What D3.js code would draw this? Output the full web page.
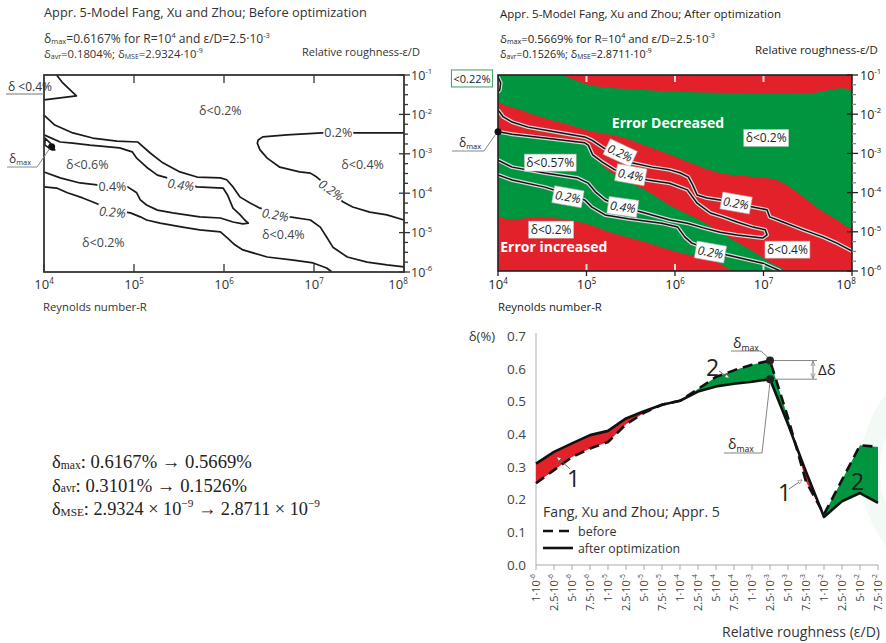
<!DOCTYPE html>
<html><head><meta charset="utf-8">
<script src="https://cdn.jsdelivr.net/npm/d3@7/dist/d3.min.js"></script>
<style>
html,body{margin:0;padding:0;background:#fff;}
svg{display:block;font-family:"Open Sans",Lato,sans-serif;}
</style></head>
<body><svg id="chart" width="886" height="643"></svg>
<script>
// ================= DATA =================
const reynoldsExps=[4,5,6,7,8];
const roughnessExps=[-1,-2,-3,-4,-5,-6];

// Before optimization: contour lines, points are [log10 R, log10 ε/D]
const befCorner=[[4.14,-1],[4.20,-1.18],[4.29,-1.38],[4.36,-1.53],[4.18,-1.58],[4,-1.63]];
const befOuter=[[4.00,-2.02],[4.12,-2.27],[4.32,-2.47],[4.54,-2.60],[4.81,-2.68],[5.04,-2.70],[5.18,-2.98],[5.32,-3.23],[5.51,-3.46],[5.70,-3.59],[5.96,-3.61],[6.03,-3.66],[6.10,-3.84],[6.18,-4.10],[6.29,-4.25],[6.40,-4.38],[6.57,-4.48],[6.73,-4.60],[6.96,-4.68],[7.07,-4.86],[7.14,-5.11],[7.21,-5.37],[7.37,-5.62],[7.59,-5.75],[7.81,-5.82],[8.00,-5.87]];
const befTongue=[[4.00,-2.52],[4.18,-2.70],[4.32,-2.73],[4.51,-2.78],[4.84,-2.85],[4.98,-2.95],[5.03,-3.11],[5.14,-3.34],[5.26,-3.54],[5.37,-3.61],[5.70,-3.84],[5.99,-3.87],[6.04,-4.05],[6.10,-4.38],[6.18,-4.55],[6.23,-4.68],[6.27,-4.76],[6.21,-4.78],[6.10,-4.73],[5.96,-4.63],[5.73,-4.60],[5.43,-4.50],[5.26,-4.43],[5.14,-4.30],[5.07,-4.17],[5.03,-3.99],[4.93,-3.84],[4.59,-3.79],[4.40,-3.74],[4.18,-3.61],[4.00,-3.46]];
const befLower=[[4.00,-3.84],[4.14,-3.87],[4.26,-3.99],[4.43,-4.12],[4.57,-4.25],[4.76,-4.43],[4.96,-4.50],[5.07,-4.60],[5.14,-4.68],[5.29,-4.76],[5.54,-4.86],[5.73,-4.93],[5.96,-4.98],[6.04,-5.14],[6.12,-5.31],[6.21,-5.44],[6.48,-5.62],[6.77,-5.70],[6.99,-5.77],[7.14,-5.90],[7.20,-6.00]];
const befRight=[[8.00,-2.47],[7.42,-2.47],[7.09,-2.47],[6.70,-2.52],[6.43,-2.57],[6.38,-2.65],[6.37,-2.73],[6.40,-2.90],[6.48,-3.11],[6.62,-3.34],[6.84,-3.46],[6.96,-3.49],[7.03,-3.59],[7.18,-3.87],[7.32,-4.22],[7.43,-4.35],[7.62,-4.48],[7.81,-4.55],[8.00,-4.68]];
const befSliver=[[4.01,-2.60],[4.07,-2.73],[4.12,-2.90],[4.09,-2.90],[4.01,-2.78]];
const befMaxPoint=[4.085,-2.82];
const befRegionLabels=[["δ<0.2%",5.96,-1.89],["δ<0.6%",4.48,-3.28],["δ<0.2%",4.66,-5.26],["δ<0.4%",6.66,-5.06],["δ<0.4%",7.54,-3.28]];
const befLineLabels=[["0.2%",7.27,-2.47,0,0],["0.4%",4.76,-3.84,0,0],["0.4%",5.52,-3.79,8,1],["0.2%",4.76,-4.48,5,1],["0.2%",6.57,-4.55,10,1],["0.2%",7.19,-3.92,35,1]];

// After optimization
const aftCorner=[[4,-1.05],[4.03,-1.2],[4.02,-1.38],[4,-1.43]];
const aftUpper=[[4.00,-1.89],[4.06,-2.07],[4.16,-2.20],[4.34,-2.33],[4.64,-2.45],[4.98,-2.58],[5.06,-2.66],[5.18,-2.84],[5.32,-3.04],[5.51,-3.24],[5.74,-3.35],[5.94,-3.42],[6.06,-3.50],[6.15,-3.60],[6.20,-3.81],[6.25,-4.06],[6.36,-4.14],[6.51,-4.19],[6.70,-4.29],[6.88,-4.37],[7.04,-4.44],[7.07,-4.62],[7.22,-4.75],[7.45,-4.95],[7.67,-5.13],[7.83,-5.29],[8.00,-5.49]];
const aftTongue=[[4.00,-2.45],[4.16,-2.51],[4.53,-2.61],[4.98,-2.73],[5.02,-2.79],[5.07,-3.04],[5.18,-3.22],[5.32,-3.42],[5.51,-3.55],[5.69,-3.68],[5.94,-3.76],[6.14,-3.93],[6.25,-4.27],[6.40,-4.52],[6.54,-4.62],[6.70,-4.75],[6.88,-4.88],[7.02,-4.95],[7.04,-5.08],[6.99,-5.16],[6.70,-5.08],[6.51,-5.01],[6.32,-4.90],[6.14,-4.78],[5.94,-4.70],[5.66,-4.52],[5.49,-4.42],[5.21,-4.19],[5.10,-3.98],[5.02,-3.76],[4.90,-3.63],[4.53,-3.50],[4.16,-3.35],[4.00,-3.17]];
const aftLower=[[4.00,-3.55],[4.16,-3.68],[4.53,-3.86],[4.81,-4.06],[4.98,-4.19],[5.06,-4.37],[5.21,-4.57],[5.47,-4.67],[5.85,-4.78],[6.03,-4.88],[6.11,-5.13],[6.19,-5.29],[6.40,-5.46],[6.59,-5.59],[6.99,-5.80],[7.19,-6.00]];
const aftMaxPoint=[4.0,-2.45];
const aftGreenUpper=[[4.00,-1.00],[4.70,-1.00],[4.87,-1.13],[5.04,-1.26],[5.47,-1.36],[6.03,-1.43],[6.60,-1.46],[7.16,-1.48],[7.55,-1.46],[8.00,-1.43],[8.00,-4.90],[7.83,-4.70],[7.64,-4.44],[7.45,-4.11],[7.15,-3.68],[6.88,-3.60],[6.51,-3.50],[6.17,-3.24],[5.99,-3.07],[5.65,-2.79],[5.39,-2.58],[5.08,-2.45],[4.82,-2.28],[4.52,-2.10],[4.26,-1.89],[4.00,-1.66]];
const aftGreenMiddle=[[4.00,-2.45],[4.16,-2.51],[4.53,-2.61],[4.98,-2.73],[5.02,-2.79],[5.15,-3.24],[5.38,-3.63],[5.66,-3.93],[5.94,-4.32],[6.28,-4.70],[6.56,-5.08],[6.85,-5.46],[7.07,-5.77],[7.24,-6.00],[6.68,-6.00],[6.42,-5.72],[6.03,-5.52],[5.66,-5.26],[5.29,-5.03],[4.98,-4.78],[4.53,-4.62],[4.00,-4.57]];
const aftBoxLabels=[["δ<0.2%",7.03,-2.61,0,0],["δ<0.57%",4.59,-3.24,0,0],["0.2%",5.38,-2.99,25,1],["0.4%",5.50,-3.55,10,1],["0.2%",4.79,-4.11,10,1],["0.4%",5.41,-4.37,8,1],["0.2%",6.69,-4.27,10,1],["δ<0.2%",4.60,-4.95,0,0],["0.2%",6.40,-5.52,10,1],["δ<0.4%",7.27,-5.46,0,0]];
const aftBigLabels=[["Error Decreased",5.92,-2.22],["Error increased",4.63,-5.39]];

// Bottom chart: relative roughness categories and δ (%)
const roughMant=["1","2.5","5","7.5","1","2.5","5","7.5","1","2.5","5","7.5","1","2.5","5","7.5","1","2.5","5","7.5"];
const roughExp=[-6,-6,-6,-6,-5,-5,-5,-5,-4,-4,-4,-4,-3,-3,-3,-3,-2,-2,-2,-2];
const deltaBefore=[0.25,0.29,0.33,0.356,0.376,0.43,0.465,0.49,0.502,0.538,0.575,0.595,0.612,0.625,0.45,0.255,0.155,0.26,0.366,0.361];
const deltaAfter=[0.31,0.346,0.372,0.397,0.41,0.448,0.47,0.49,0.502,0.53,0.546,0.554,0.56,0.568,0.43,0.285,0.147,0.195,0.22,0.19];
const deltaTicks=[0,0.1,0.2,0.3,0.4,0.5,0.6,0.7];
const maxIndex=13;

// ================= DRAWING =================
const RED="#e3212b", GREEN="#009640";
const svg=d3.select("#chart");
const defs=svg.append("defs");

svg.append("circle").attr("cx",985).attr("cy",470).attr("r",115).attr("fill","none").attr("stroke","#f3f9f5").attr("stroke-width",20);

function rich(t, parts, subOff){
  let off=0;
  const so = subOff===undefined?0.2:subOff;
  for(const [s,k] of parts){
    const f = k==="n"?1:0.62;
    const tgt = k==="sup"?-0.42:k==="sub"?so:0;
    const ts=t.append("tspan").text(s);
    if(f!==1) ts.attr("font-size",f+"em");
    if(tgt!==off) ts.attr("dy",((tgt-off)/f).toFixed(3)+"em");
    off=tgt;
  }
  return t;
}
function fit(t,w){const l=t.node().getComputedTextLength();const fs=parseFloat(t.attr("font-size"));t.attr("font-size",(fs*w/l).toFixed(2));return t;}
function bgLabel(g,txt,x,y,rot,o){
  const gg=g.append("g").attr("transform",`translate(${x},${y}) rotate(${rot})`);
  const t=gg.append("text").attr("text-anchor","middle").attr("dy","0.36em").attr("font-size",o.size).attr("fill",o.color).text(txt);
  if(o.italic) t.attr("font-style","italic");
  const b=t.node().getBBox();
  gg.insert("rect","text").attr("x",b.x-o.padx).attr("y",b.y-o.pady).attr("width",b.width+2*o.padx).attr("height",b.height+2*o.pady).attr("fill","#fff").attr("stroke",o.stroke||"none").attr("stroke-width",0.6);
}

function panel(cfg){
  const x=d3.scaleLog().domain([1e4,1e8]).range(cfg.xr);
  const y=d3.scaleLog().domain([1e-1,1e-6]).range(cfg.yr);
  const px=p=>x(Math.pow(10,p[0])), py=p=>y(Math.pow(10,p[1]));
  const g=svg.append("g");
  return {x,y,px,py,g};
}

// ===== LEFT PANEL (before) =====
{
  const P=panel({xr:[44,404],yr:[75,272]});
  const {x,y,px,py,g}=P;
  const line=d3.line().x(px).y(py);
  const col="#333";
  fit(g.append("text").attr("x",44).attr("y",17).attr("font-size",14).attr("fill",col).text("Appr. 5-Model Fang, Xu and Zhou; Before optimization"),323);
  fit(rich(g.append("text").attr("x",44).attr("y",43).attr("font-size",11).attr("fill",col),[["δ","n"],["max","sub"],["=0.6167% for R=10","n"],["4","sup"],[" and ε/D=2.5·10","n"],["-3","sup"]],0.12),226);
  rich(g.append("text").attr("x",44).attr("y",58).attr("font-size",11.3).attr("fill",col),[["δ","n"],["avr","sub"],["=0.1804%; δ","n"],["MSE","sub"],["=2.9324·10","n"],["-9","sup"]],0.12);
  fit(g.append("text").attr("x",302).attr("y",56).attr("font-size",12).attr("fill",col).text("Relative roughness-ε/D"),118);
  fit(g.append("text").attr("x",43).attr("y",311).attr("font-size",12).attr("fill",col).text("Reynolds number-R"),104);
  const cg=g.append("g").attr("fill","none").attr("stroke","#1a1a1a").attr("stroke-width",1.7).attr("stroke-linejoin","round");
  [befCorner,befOuter,befTongue,befLower,befRight].forEach(d=>cg.append("path").attr("d",line(d)));
  cg.append("path").attr("d",d3.line().x(px).y(py).curve(d3.curveLinearClosed)(befSliver));
  befLineLabels.forEach(([t,lr,le,r,it])=>bgLabel(g,t,x(10**lr),y(10**le),r,{size:12.5,color:"#444",italic:it,padx:1,pady:-1}));
  befRegionLabels.forEach(([t,lr,le])=>g.append("text").attr("x",x(10**lr)).attr("y",y(10**le)).attr("dy","0.36em").attr("text-anchor","middle").attr("font-size",12.5).attr("fill","#444").text(t));
  g.append("circle").attr("cx",px(befMaxPoint)).attr("cy",py(befMaxPoint)).attr("r",3.5).attr("fill","#111");
  g.append("rect").attr("x",44).attr("y",75).attr("width",360).attr("height",197).attr("fill","none").attr("stroke",col).attr("stroke-width",1.8);
  const tg=g.append("g").attr("stroke",col).attr("stroke-width",1.3);
  reynoldsExps.forEach(e=>{const xx=x(10**e);
    if(e>4&&e<8){tg.append("line").attr("x1",xx).attr("x2",xx).attr("y1",75).attr("y2",83);}
    tg.append("line").attr("x1",xx).attr("x2",xx).attr("y1",272).attr("y2",264);
    rich(g.append("text").attr("x",e===8?xx-6:xx).attr("y",289).attr("text-anchor","middle").attr("font-size",13).attr("fill",col),[["10","n"],[String(e),"sup"]]);
  });
  d3.range(-1,-6.01,-0.25).forEach(v=>{const yy=y(10**v);const maj=Math.abs(v-Math.round(v))<1e-6;
    tg.append("line").attr("x1",maj?399:404).attr("x2",maj?410:408).attr("y1",yy).attr("y2",yy);});
  roughnessExps.forEach(e=>rich(g.append("text").attr("x",411).attr("y",y(10**e)).attr("dy","0.36em").attr("font-size",12.5).attr("fill",col),[["10","n"],[String(e),"sup"]]));
  g.append("text").attr("x",8).attr("y",91).attr("font-size",12).attr("fill",col).text("δ <0.4%");
  g.append("line").attr("x1",6).attr("x2",44).attr("y1",94).attr("y2",94).attr("stroke","#777").attr("stroke-width",1);
  rich(g.append("text").attr("x",9).attr("y",163).attr("font-size",12).attr("fill",col),[["δ","n"],["max","sub"]]);
  g.append("path").attr("d",`M7,167H37L${px(befMaxPoint)-2},${py(befMaxPoint)+2}`).attr("fill","none").attr("stroke","#888").attr("stroke-width",1);
}

// ===== RIGHT PANEL (after) =====
{
  const P=panel({xr:[498,852],yr:[75,271]});
  const {x,y,px,py,g}=P;
  const line=d3.line().x(px).y(py);
  const col="#222";
  fit(g.append("text").attr("x",500).attr("y",18).attr("font-size",12).attr("fill",col).text("Appr. 5-Model Fang, Xu and Zhou; After optimization"),281);
  fit(rich(g.append("text").attr("x",500).attr("y",43).attr("font-size",10.5).attr("fill",col),[["δ","n"],["max","sub"],["=0.5669% for R=10","n"],["4","sup"],[" and ε/D=2.5·10","n"],["-3","sup"]],0.12),215);
  rich(g.append("text").attr("x",500).attr("y",58).attr("font-size",10.8).attr("fill",col),[["δ","n"],["avr","sub"],["=0.1526%; δ","n"],["MSE","sub"],["=2.8711·10","n"],["-9","sup"]],0.12);
  fit(g.append("text").attr("x",755).attr("y",54).attr("font-size",12).attr("fill",col).text("Relative roughness-ε/D"),123);
  fit(g.append("text").attr("x",498).attr("y",311).attr("font-size",12).attr("fill",col).text("Reynolds number-R"),104);
  defs.append("clipPath").attr("id","clipR").append("rect").attr("x",498).attr("y",75).attr("width",354).attr("height",196);
  const fills=g.append("g").attr("clip-path","url(#clipR)");
  fills.append("rect").attr("x",498).attr("y",75).attr("width",354).attr("height",196).attr("fill",RED);
  const closed=d3.line().x(px).y(py).curve(d3.curveCatmullRomClosed.alpha(0.5));
  fills.append("path").attr("d",closed(aftGreenUpper)).attr("fill",GREEN);
  fills.append("path").attr("d",closed(aftGreenMiddle)).attr("fill",GREEN);
  [aftCorner,aftUpper,aftTongue,aftLower].forEach(d=>{
    fills.append("path").attr("d",line(d)).attr("fill","none").attr("stroke","#d8d8d8").attr("stroke-width",4).attr("stroke-linejoin","round");
    fills.append("path").attr("d",line(d)).attr("fill","none").attr("stroke","#111").attr("stroke-width",1.5).attr("stroke-linejoin","round");
  });
  const lt=g.append("g").attr("stroke","#ddd").attr("stroke-width",2);
  reynoldsExps.slice(1,4).forEach(e=>{const xx=x(10**e);
    lt.append("line").attr("x1",xx).attr("x2",xx).attr("y1",76).attr("y2",82);
    lt.append("line").attr("x1",xx).attr("x2",xx).attr("y1",264).attr("y2",270);});
  aftBoxLabels.forEach(([t,lr,le,r,it])=>bgLabel(g,t,x(10**lr),y(10**le),r,{size:12,color:"#222",italic:it,padx:2,pady:0,stroke:"#bbb"}));
  aftBigLabels.forEach(([t,lr,le])=>g.append("text").attr("x",x(10**lr)).attr("y",y(10**le)).attr("dy","0.36em").attr("text-anchor","middle").attr("font-size",14).attr("font-weight","bold").attr("fill","#fff").text(t));
  g.append("rect").attr("x",498).attr("y",75).attr("width",354).attr("height",196).attr("fill","none").attr("stroke",col).attr("stroke-width",1.6);
  const tg=g.append("g").attr("stroke",col).attr("stroke-width",1.3);
  reynoldsExps.forEach(e=>{const xx=x(10**e);
    tg.append("line").attr("x1",xx).attr("x2",xx).attr("y1",271).attr("y2",276);
    rich(g.append("text").attr("x",e===8?xx-6:xx).attr("y",289).attr("text-anchor","middle").attr("font-size",13).attr("fill",col),[["10","n"],[String(e),"sup"]]);
  });
  d3.range(-1,-6.01,-0.25).forEach(v=>{const yy=y(10**v);const maj=Math.abs(v-Math.round(v))<1e-6;
    tg.append("line").attr("x1",maj?847:852).attr("x2",maj?858:856).attr("y1",yy).attr("y2",yy).attr("stroke",maj?col:"#888");});
  roughnessExps.forEach(e=>rich(g.append("text").attr("x",860).attr("y",y(10**e)).attr("dy","0.36em").attr("font-size",12.5).attr("fill",col),[["10","n"],[String(e),"sup"]]));
  const lb=g.append("g").attr("transform","translate(472,79)");
  const lt2=lb.append("text").attr("text-anchor","middle").attr("dy","0.36em").attr("font-size",11).attr("fill","#222").text("<0.22%");
  const bb=lt2.node().getBBox();
  lb.insert("rect","text").attr("x",bb.x-2).attr("y",bb.y-1).attr("width",bb.width+4).attr("height",bb.height+2).attr("fill","#fff").attr("stroke","#3aa05a").attr("stroke-width",1);
  g.append("circle").attr("cx",px(aftMaxPoint)).attr("cy",py(aftMaxPoint)).attr("r",3.5).attr("fill","#111");
  rich(g.append("text").attr("x",459).attr("y",147).attr("font-size",12).attr("fill",col),[["δ","n"],["max","sub"]]);
  g.append("path").attr("d",`M452,151H484L${px(aftMaxPoint)-2},${py(aftMaxPoint)+2}`).attr("fill","none").attr("stroke","#888").attr("stroke-width",1);
}

// ===== BOTTOM CHART =====
{
  const cats=roughMant.map((m,i)=>m+"e"+roughExp[i]);
  const x=d3.scalePoint().domain(cats).range([536,878]);
  const y=d3.scaleLinear().domain([0,0.7]).range([565,336]);
  const g=svg.append("g");
  const gx=(d,i)=>x(cats[i]);
  g.append("line").attr("x1",536).attr("x2",536).attr("y1",333).attr("y2",565).attr("stroke","#bbb").attr("stroke-width",1.2);
  g.append("line").attr("x1",536).attr("x2",878).attr("y1",565).attr("y2",565).attr("stroke","#aaa").attr("stroke-width",1.2);
  cats.forEach(c=>g.append("line").attr("x1",x(c)).attr("x2",x(c)).attr("y1",565).attr("y2",570).attr("stroke","#aaa").attr("stroke-width",1));
  deltaTicks.forEach(v=>g.append("text").attr("x",526).attr("y",y(v)).attr("dy","0.36em").attr("text-anchor","end").attr("font-size",13.5).attr("fill","#444").text(v.toFixed(1)));
  cats.forEach((c,i)=>{
    const t=g.append("text").attr("transform",`translate(${x(c)},574) rotate(-90)`).attr("dy","0.36em").attr("text-anchor","end").attr("font-size",11).attr("fill","#444");
    rich(t,[[roughMant[i]+"·10","n"],[String(roughExp[i]),"sup"]]);
  });
  g.append("text").attr("x",495).attr("y",341).attr("text-anchor","end").attr("font-size",13).attr("fill","#333").text("δ(%)");
  fit(g.append("text").attr("x",880).attr("y",637).attr("text-anchor","end").attr("font-size",15).attr("fill","#333").text("Relative roughness (ε/D)"),158);
  const top=300;
  const mkArea=(arr,y0)=>d3.area().x(gx).y0(y0).y1((d,i)=>y(arr[i]));
  defs.append("clipPath").attr("id","aboveBefore").append("path").attr("d",mkArea(deltaBefore,top)(cats));
  defs.append("clipPath").attr("id","aboveAfter").append("path").attr("d",mkArea(deltaAfter,top)(cats));
  g.append("path").attr("d",mkArea(deltaAfter,y(0))(cats)).attr("fill",RED).attr("clip-path","url(#aboveBefore)");
  g.append("path").attr("d",mkArea(deltaBefore,y(0))(cats)).attr("fill",GREEN).attr("clip-path","url(#aboveAfter)");
  const ln=arr=>d3.line().x(gx).y((d,i)=>y(arr[i]));
  g.append("path").attr("d",ln(deltaAfter)(cats)).attr("fill","none").attr("stroke","#111").attr("stroke-width",2.6).attr("stroke-linejoin","round");
  g.append("path").attr("d",ln(deltaBefore)(cats)).attr("fill","none").attr("stroke","#111").attr("stroke-width",2.6).attr("stroke-dasharray","10,6").attr("stroke-linejoin","round");
  const mx=x(cats[maxIndex]), myb=y(deltaBefore[maxIndex]), mya=y(deltaAfter[maxIndex]);
  const ag=g.append("g").attr("stroke","#777").attr("stroke-width",0.9).attr("fill","none");
  ag.append("line").attr("x1",mx).attr("x2",817).attr("y1",myb).attr("y2",myb);
  ag.append("line").attr("x1",mx).attr("x2",817).attr("y1",mya).attr("y2",mya);
  defs.append("marker").attr("id","ah").attr("viewBox","0 0 10 10").attr("refX",9).attr("refY",5).attr("markerWidth",6).attr("markerHeight",6).attr("orient","auto-start-reverse")
    .append("path").attr("d","M0,1L10,5L0,9").attr("fill","none").attr("stroke","#777").attr("stroke-width",1.3);
  ag.append("line").attr("x1",813).attr("x2",813).attr("y1",myb+1).attr("y2",mya-1).attr("marker-start","url(#ah)").attr("marker-end","url(#ah)");
  ag.append("path").attr("d",`M731,351H761L${mx-2},${myb-3}`);
  ag.append("path").attr("d",`M724,453H762L${mx},${mya+3}`);
  g.append("circle").attr("cx",mx).attr("cy",myb).attr("r",4).attr("fill","#222");
  g.append("circle").attr("cx",mx).attr("cy",mya).attr("r",4).attr("fill","#222");
  rich(g.append("text").attr("x",733).attr("y",348).attr("font-size",14).attr("fill","#222"),[["δ","n"],["max","sub"]]);
  rich(g.append("text").attr("x",728).attr("y",449).attr("font-size",14).attr("fill","#222"),[["δ","n"],["max","sub"]]);
  g.append("text").attr("x",818).attr("y",375).attr("font-size",15).attr("fill","#222").text("Δδ");
  const num=(t,xx,yy)=>g.append("text").attr("x",xx).attr("y",yy).attr("font-size",23).attr("fill","#222").text(t);
  num("2",706,376); num("1",567,487); num("1",778,501); num("2",851,490);
  const arr=g.append("g").attr("stroke","#666").attr("stroke-width",0.9).attr("fill","none");
  defs.append("marker").attr("id","ah2").attr("viewBox","0 0 10 10").attr("refX",9).attr("refY",5).attr("markerWidth",5).attr("markerHeight",5).attr("orient","auto")
    .append("path").attr("d","M0,1L10,5L0,9Z").attr("fill","#fff").attr("stroke","#555").attr("stroke-width",1);
  arr.append("line").attr("x1",719).attr("y1",371).attr("x2",729).attr("y2",378).attr("marker-end","url(#ah2)");
  arr.append("line").attr("x1",570).attr("y1",469).attr("x2",557).attr("y2",457).attr("marker-end","url(#ah2)");
  arr.append("line").attr("x1",789).attr("y1",489).attr("x2",802).attr("y2",480).attr("marker-end","url(#ah2)");
  fit(g.append("text").attr("x",543).attr("y",517).attr("font-size",15).attr("fill","#333").text("Fang, Xu and Zhou; Appr. 5"),177);
  g.append("line").attr("x1",543).attr("x2",573).attr("y1",531).attr("y2",531).attr("stroke","#111").attr("stroke-width",2.6).attr("stroke-dasharray","10,6");
  g.append("line").attr("x1",543).attr("x2",573).attr("y1",548).attr("y2",548).attr("stroke","#111").attr("stroke-width",2.6);
  g.append("text").attr("x",578).attr("y",536).attr("font-size",12.5).attr("fill","#333").text("before");
  fit(g.append("text").attr("x",578).attr("y",553).attr("font-size",13).attr("fill","#333").text("after optimization"),102);
}

// ===== summary text =====
{
  const g=svg.append("g").attr("font-family","'Liberation Serif','DejaVu Serif',serif").attr("fill","#222");
  const lines=[
    [["δ","n"],["max","sub"],[": 0.6167% → 0.5669%","n"]],
    [["δ","n"],["avr","sub"],[": 0.3101% → 0.1526%","n"]],
    [["δ","n"],["MSE","sub"],[": 2.9324 × 10","n"],["−9","sup"],[" → 2.8711 × 10","n"],["−9","sup"]]
  ];
  const widths=[200,195,268];
  lines.forEach((p,i)=>fit(rich(g.append("text").attr("x",52).attr("y",468+i*23.5).attr("font-size",18),p,0.05),widths[i]));
}
</script></body></html>
